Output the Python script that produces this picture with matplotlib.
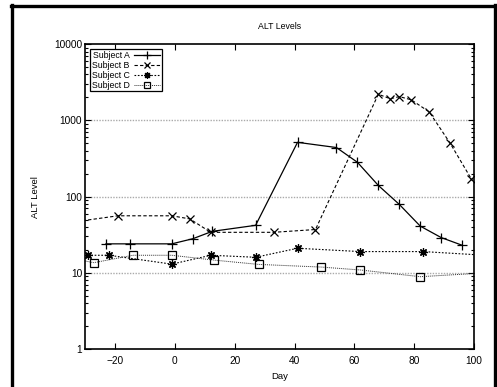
import matplotlib
matplotlib.use("Agg")
import matplotlib.pyplot as plt
from matplotlib.lines import Line2D
from matplotlib.ticker import LogLocator, NullFormatter, FixedLocator

plt.rcParams["font.family"] = ["Liberation Sans", "DejaVu Sans"]
plt.rcParams["font.size"] = 7.3

# ---- data ----
days_a = [-23, -15, -1, 6, 12.5, 27, 41, 54, 61, 68, 75, 82, 89, 96]
alt_a = [24, 24, 24, 28, 35, 42, 515, 440, 282, 140, 79, 41, 29, 23]

days_b = [-40, -19, -1, 5, 12, 33, 47, 68, 72, 75, 79, 85, 92, 99]
alt_b = [43, 56, 56, 51, 34, 34, 37, 2200, 1920, 2050, 1860, 1290, 500, 172]

days_c = [-29, -22, -1, 12, 27, 41, 62, 83, 115]
alt_c = [17, 17, 13, 17, 16, 21, 19, 19, 16]

days_d = [-33, -27, -14, -1, 13, 28, 49, 62, 82, 115]
alt_d = [15, 13.6, 17, 17, 14.7, 12.9, 11.9, 10.9, 8.9, 10.6]

labels = ["Subject A", "Subject B", "Subject C", "Subject D"]
x_ticks = [-20, 0, 20, 40, 60, 80, 100]
y_ticks = [1, 10, 100, 1000, 10000]

fig = plt.figure(figsize=(4.97, 3.87), dpi=100)
ax = fig.add_axes([0.171, 0.098, 0.783, 0.788])

styles = [
    dict(ls="-", marker="+", ms=7, mew=0.9, color="black", lw=0.9),
    dict(ls=(0, (3, 2)), marker="x", ms=6, mew=0.9, color="black", lw=0.8),
    dict(ls=(0, (1.5, 1.5)), marker=(8, 2, 0), ms=6, mew=0.9, color="black", lw=0.8),
    dict(ls=(0, (1, 1)), marker="s", ms=6, mew=0.9, color="#333333", lw=0.7,
         mfc="none", mec="black"),
]
series = [(days_a, alt_a), (days_b, alt_b), (days_c, alt_c), (days_d, alt_d)]
for (x, y), lab, st in zip(series, labels, styles):
    ax.plot(x, y, label=lab, clip_on=True, **st)

ax.set_yscale("log")
ax.set_xlim(-30, 100)
ax.set_ylim(1, 10000)
ax.xaxis.set_major_locator(FixedLocator(x_ticks))
ax.yaxis.set_major_locator(FixedLocator(y_ticks))
ax.set_yticklabels([str(v) for v in y_ticks])
ax.yaxis.set_minor_locator(LogLocator(base=10, subs=range(2, 10)))
ax.yaxis.set_minor_formatter(NullFormatter())
ax.tick_params(which="both", direction="in", top=True, right=True, width=0.8)
ax.tick_params(which="major", length=4)
ax.tick_params(which="minor", length=2)
ax.tick_params(axis="y", pad=2)
ax.tick_params(axis="x", pad=5)
for s in ax.spines.values():
    s.set_linewidth(1.2)

for v in [10, 100, 1000]:
    ax.axhline(v, color="#aaaaaa", ls=(0, (1, 1)), lw=1.0, zorder=0)

ax.set_title("ALT Levels", pad=11, fontsize=6.3)
ax.set_xlabel("Day", labelpad=4, fontsize=6.8)
ax.set_ylabel("ALT Level", labelpad=10, fontsize=6.8)

leg = ax.legend(loc="upper left", markerfirst=False, fancybox=False,
                edgecolor="black", framealpha=1, borderpad=0.2,
                labelspacing=0.1, handlelength=3.0, handletextpad=0.5,
                borderaxespad=0.6, fontsize=6.3, markerscale=0.8)
leg.get_frame().set_linewidth(0.9)

# outer page frame
for xs, ys in [([12 / 497, 12 / 497], [0, 1 - 5 / 387]),
               ([11 / 497, 1], [1 - 5.5 / 387, 1 - 5.5 / 387]),
               ([495 / 497, 495 / 497], [0, 1 - 5 / 387])]:
    fig.add_artist(Line2D(xs, ys, color="black", lw=2.4, transform=fig.transFigure))

fig.savefig("out.png", dpi=100)
